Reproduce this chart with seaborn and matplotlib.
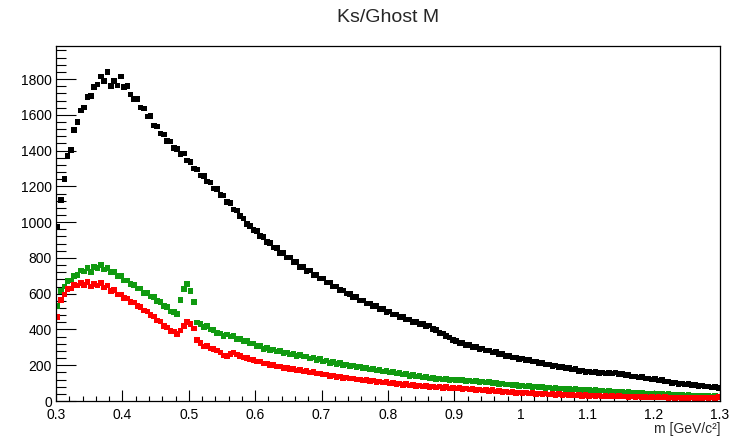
import numpy as np
import pandas as pd
import matplotlib
matplotlib.use("Agg")
import matplotlib.pyplot as plt
from matplotlib.ticker import MultipleLocator, FormatStrFormatter, FuncFormatter
import seaborn as sns

# Histogram binning (0.3 - 1.3 GeV/c^2, 200 bins)
x_min, x_max, n_bins = 0.3, 1.3, 200

black_vals = [
    975, 1125, 1240, 1370, 1405, 1515, 1560, 1625, 1640, 1700,
    1705, 1755, 1770, 1815, 1790, 1840, 1760, 1790, 1765, 1815,
    1755, 1760, 1715, 1690, 1690, 1640, 1635, 1590, 1595, 1540,
    1535, 1495, 1490, 1455, 1450, 1415, 1410, 1380, 1385, 1345,
    1335, 1300, 1295, 1262, 1258, 1228, 1222, 1188, 1185, 1152,
    1148, 1112, 1108, 1072, 1066, 1034, 1020, 990, 980, 955,
    950, 922, 916, 888, 885, 858, 856, 828, 826, 803,
    802, 778, 776, 750, 750, 728, 730, 706, 704, 684,
    686, 662, 662, 640, 640, 620, 618, 600, 598, 580,
    580, 562, 562, 545, 546, 530, 530, 514, 514, 498,
    500, 484, 484, 469, 470, 455, 456, 442, 443, 430,
    430, 418, 422, 402, 398, 380, 378, 362, 354, 340,
    336, 325, 325, 313, 314, 302, 302, 292, 293, 282,
    283, 272, 273, 262, 263, 253, 253, 243, 244, 235,
    237, 228, 229, 220, 222, 212, 213, 204, 205, 196,
    198, 190, 191, 183, 184, 176, 178, 169, 170, 163,
    166, 159, 161, 156, 160, 154, 158, 155, 159, 151,
    152, 144, 145, 136, 138, 131, 133, 125, 127, 120,
    122, 114, 116, 108, 110, 102, 104, 96, 98, 92,
    94, 88, 90, 84, 86, 80, 82, 76, 78, 73,
]

green_vals = [
    530, 615, 640, 670, 675, 700, 705, 730, 725, 745,
    720, 750, 745, 760, 735, 745, 720, 720, 700, 700,
    675, 675, 655, 650, 630, 628, 605, 605, 585, 582,
    560, 555, 530, 525, 500, 498, 485, 565, 625, 655,
    615, 555, 440, 430, 415, 420, 400, 398, 380, 378,
    365, 372, 360, 364, 348, 348, 335, 334, 322, 322,
    306, 306, 292, 296, 284, 288, 276, 280, 268, 272,
    260, 264, 252, 258, 248, 250, 238, 242, 230, 234,
    222, 226, 214, 218, 208, 212, 202, 205, 196, 199,
    189, 193, 183, 186, 177, 180, 171, 174, 165, 168,
    159, 162, 153, 156, 147, 150, 141, 144, 136, 139,
    131, 134, 127, 129, 123, 126, 119, 122, 116, 119,
    118, 116, 117, 113, 114, 110, 111, 107, 108, 104,
    105, 100, 101, 96, 97, 92, 93, 88, 89, 85,
    86, 82, 84, 79, 81, 77, 78, 74, 75, 71,
    73, 69, 71, 67, 68, 64, 66, 62, 63, 60,
    62, 58, 60, 56, 58, 54, 56, 52, 54, 50,
    52, 48, 50, 46, 48, 44, 46, 42, 43, 40,
    42, 38, 40, 36, 38, 35, 36, 33, 34, 31,
    33, 30, 31, 28, 30, 27, 28, 25, 27, 24,
]

red_vals = [
    470, 565, 595, 625, 630, 650, 645, 660, 650, 665,
    640, 655, 645, 660, 635, 645, 615, 620, 595, 595,
    575, 572, 555, 550, 530, 526, 505, 500, 480, 472,
    450, 444, 418, 412, 392, 388, 376, 395, 420, 442,
    432, 405, 340, 325, 305, 306, 294, 292, 282, 272,
    255, 252, 264, 270, 260, 252, 242, 240, 232, 230,
    220, 220, 210, 210, 202, 202, 194, 194, 186, 186,
    178, 178, 171, 174, 166, 169, 160, 163, 155, 155,
    147, 148, 140, 142, 134, 136, 129, 131, 125, 127,
    119, 121, 115, 118, 111, 114, 107, 110, 103, 106,
    99, 102, 95, 98, 91, 94, 87, 90, 84, 87,
    81, 84, 78, 82, 76, 80, 74, 77, 71, 74,
    69, 72, 66, 69, 64, 66, 61, 64, 59, 62,
    57, 60, 54, 57, 51, 54, 48, 51, 45, 48,
    44, 47, 42, 45, 40, 43, 38, 41, 36, 39,
    35, 38, 33, 36, 32, 35, 30, 33, 29, 32,
    29, 31, 27, 30, 26, 29, 25, 28, 24, 27,
    24, 26, 22, 25, 21, 24, 21, 23, 20, 23,
    20, 22, 19, 21, 18, 20, 17, 19, 16, 18,
    17, 19, 16, 18, 16, 19, 17, 20, 18, 21,
]

series_names = ["all", "ghost_a", "ghost_b"]
series_colors = {"all": "#000000", "ghost_a": "#109a10", "ghost_b": "#ff0000"}

title = "Ks/Ghost M"
xlabel = "m [GeV/c²]"

edges = np.linspace(x_min, x_max, n_bins + 1)
centers = 0.5 * (edges[:-1] + edges[1:])

df = pd.concat([
    pd.DataFrame({"m": centers, "count": black_vals, "series": "all"}),
    pd.DataFrame({"m": centers, "count": green_vals, "series": "ghost_a"}),
    pd.DataFrame({"m": centers, "count": red_vals, "series": "ghost_b"}),
], ignore_index=True)

sns.set_theme(style="white")
plt.rcParams["font.family"] = ["Liberation Sans", "DejaVu Sans"]

fig = plt.figure(figsize=(7.36, 4.36), dpi=100)
W, H = 736, 436
ax = fig.add_axes([56 / W, 1 - 401 / H, (720 - 56) / W, (401 - 46) / H])

sns.scatterplot(data=df, x="m", y="count", hue="series", hue_order=series_names,
                palette=series_colors, marker="s", s=16, linewidth=0,
                legend=False, ax=ax)

ax.set_xlim(x_min, x_max)
ax.set_ylim(0, 1985)

ax.xaxis.set_major_locator(MultipleLocator(0.1))
ax.xaxis.set_minor_locator(MultipleLocator(0.02))
ax.yaxis.set_major_locator(MultipleLocator(200))
ax.yaxis.set_minor_locator(MultipleLocator(40))
ax.xaxis.set_major_formatter(FuncFormatter(lambda v, p: f"{v:g}"))
ax.yaxis.set_major_formatter(FormatStrFormatter("%d"))

ax.tick_params(axis="both", which="both", direction="in", colors="black",
               bottom=True, left=True, top=False, right=False, labelsize=10)
ax.tick_params(axis="y", which="major", length=14.4, width=0.8, pad=3)
ax.tick_params(axis="y", which="minor", length=7.2, width=0.8)
ax.tick_params(axis="x", which="major", length=7.6, width=0.8, pad=5)
ax.tick_params(axis="x", which="minor", length=3.8, width=0.8)

for sp in ax.spines.values():
    sp.set_visible(True)
    sp.set_color("black")
    sp.set_linewidth(0.9)

ax.set_xlabel(xlabel, loc="right", fontsize=10, labelpad=0)
ax.set_ylabel("")
fig.text((56 + 720) / 2 / W, 1 - 17 / H, title, ha="center", va="center", fontsize=14)

fig.savefig("out.png", dpi=100)
